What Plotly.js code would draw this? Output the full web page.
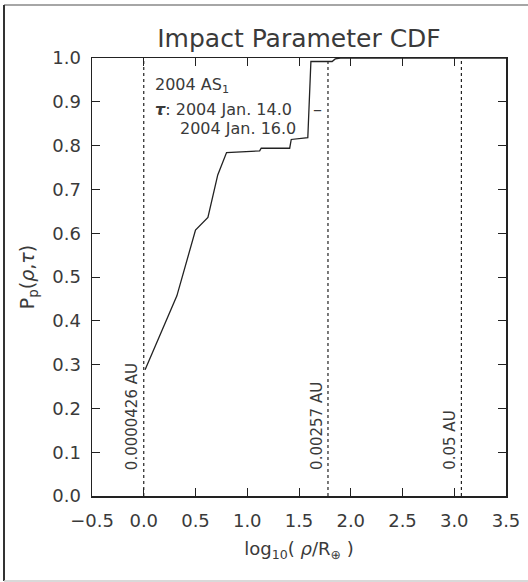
<!DOCTYPE html>
<html>
<head>
<meta charset="utf-8">
<script src="https://cdn.plot.ly/plotly-3.0.1.min.js"></script>
<style>
html,body{margin:0;padding:0;background:#fff;}
#chart{width:528px;height:582px;}
</style>
</head>
<body>
<div id="chart"></div>
<script>
// CDF curve: log10(rho / R_earth) vs P_p(rho, tau)
var logRho = [0.013, 0.32, 0.50, 0.62, 0.715, 0.80, 1.12, 1.135, 1.41, 1.425, 1.585, 1.615, 1.82, 1.85, 1.9, 3.5];
var probP  = [0.288, 0.457, 0.607, 0.636, 0.733, 0.784, 0.788, 0.794, 0.794, 0.814, 0.818, 0.992, 0.992, 0.998, 1.0, 1.0];

// reference distances (vertical dotted lines)
var refX      = [0.0, 1.78, 3.069];
var refLabels = ['0.0000426 AU', '0.00257 AU', '0.05 AU'];

var xTicks = [-0.5, 0.0, 0.5, 1.0, 1.5, 2.0, 2.5, 3.0, 3.5];
var yTicks = [0.0, 0.1, 0.2, 0.3, 0.4, 0.5, 0.6, 0.7, 0.8, 0.9, 1.0];

var FONT = 'DejaVu Sans, Liberation Sans, sans-serif';
var INK = '#222';
var TXT = '#3a3a3a';

var traces = [];
refX.forEach(function(x){
  traces.push({x:[x,x], y:[0,1], mode:'lines', type:'scatter',
    line:{color:INK, width:1.2, dash:'dot'}, hoverinfo:'skip', showlegend:false});
});
traces.push({x:logRho, y:probP, mode:'lines', type:'scatter',
  line:{color:INK, width:1.3}, showlegend:false});

var annotations = refX.map(function(x,i){
  return {x:x, y:0.055, xref:'x', yref:'y', text:refLabels[i], textangle:-90,
    showarrow:false, xanchor:'center', yanchor:'bottom', xshift:-11,
    font:{family:FONT, size:15, color:TXT}};
});
annotations.push(
  {x:0.09, y:0.937, xref:'x', yref:'y', text:'2004 AS<sub>1</sub>', showarrow:false,
   xanchor:'left', yanchor:'middle', font:{family:FONT, size:16, color:TXT}},
  {x:0.09, y:0.882, xref:'x', yref:'y', text:'<b><i>τ</i></b>: 2004 Jan. 14.0', showarrow:false,
   xanchor:'left', yanchor:'middle', font:{family:FONT, size:16, color:TXT}},
  {x:1.68, y:0.884, xref:'x', yref:'y', text:'–', showarrow:false,
   xanchor:'center', yanchor:'middle', font:{family:FONT, size:18, color:TXT}},
  {x:0.334, y:0.840, xref:'x', yref:'y', text:'2004 Jan. 16.0', showarrow:false,
   xanchor:'left', yanchor:'middle', font:{family:FONT, size:16, color:TXT}}
);

var layout = {
  width:528, height:582,
  margin:{l:92, r:22, t:58, b:86, pad:0},
  paper_bgcolor:'#fff', plot_bgcolor:'#fff',
  font:{family:FONT, color:TXT},
  title:{text:'Impact Parameter CDF', font:{family:FONT, size:25, color:TXT},
    x:0.5, xref:'paper', xanchor:'center', y:1-38/582, yref:'container', yanchor:'middle'},
  xaxis:{range:[-0.5,3.5], tickvals:xTicks, tickformat:'.1f', ticks:'inside', ticklen:8,
    tickcolor:INK, showline:true, linecolor:INK, linewidth:1.5, mirror:'ticks',
    showgrid:false, zeroline:false, ticklabelstandoff:8, tickfont:{family:FONT, size:18, color:TXT},
    title:{text:'log<sub>10</sub>( <i>ρ</i>/R<sub>⊕</sub> )', font:{family:FONT, size:18, color:TXT}, standoff:12}},
  yaxis:{range:[0,1], tickvals:yTicks, tickformat:'.1f', ticks:'inside', ticklen:8,
    tickcolor:INK, showline:true, linecolor:INK, linewidth:1.5, mirror:'ticks',
    showgrid:false, zeroline:false, ticklabelstandoff:6, tickfont:{family:FONT, size:18, color:TXT},
    title:{text:'P<sub>p</sub>(<i>ρ</i>,<i>τ</i>)', font:{family:FONT, size:19, color:TXT}, standoff:12}},
  annotations:annotations,
  shapes:[
    {type:'line', xref:'paper', yref:'paper', x0:(4-92)/414, x1:(528-92)/414, y0:(582-5-86)/438, y1:(582-5-86)/438, line:{color:'#888', width:1.5}},
    {type:'line', xref:'paper', yref:'paper', x0:(4-92)/414, x1:(4-92)/414, y0:(582-5-86)/438, y1:-85/438, line:{color:'#333', width:2}},
    {type:'line', xref:'paper', yref:'paper', x0:(4-92)/414, x1:(528-92)/414, y0:-85/438, y1:-85/438, line:{color:'#ccc', width:1.5}}
  ],
  showlegend:false
};

Plotly.newPlot('chart', traces, layout, {displayModeBar:false, staticPlot:true});
</script>
</body>
</html>
